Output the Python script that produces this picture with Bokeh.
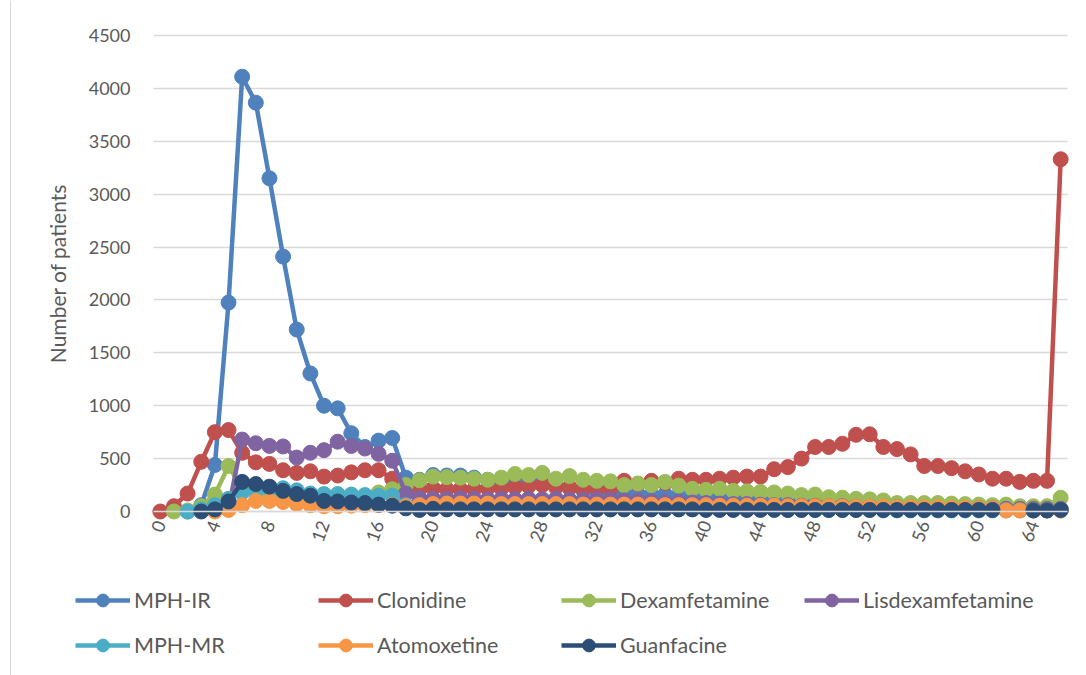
import math
from bokeh.plotting import figure
from bokeh.models import Range1d, FixedTicker, Legend, LegendItem, BoxAnnotation, Span
from bokeh.embed import file_html
from bokeh.resources import INLINE

nan = float("nan")

x_vals = list(range(67))
x_tick_values = list(range(0, 65, 4))
x_tick_labels = [str(v) for v in x_tick_values]
y_tick_values = list(range(0, 4501, 500))

series_names = ["MPH-IR", "Clonidine", "Dexamfetamine", "Lisdexamfetamine",
                "MPH-MR", "Atomoxetine", "Guanfacine"]
series_colors = ["#4F81BD", "#C0504D", "#9BBB59", "#8064A2",
                 "#4BACC6", "#F79646", "#2C4D75"]

mph_ir = [nan, nan, 0, 60, 440, 1975, 4110, 3865, 3150, 2410,
          1720, 1305, 1000, 975, 740, 610, 670, 695, 320, 300,
          345, 340, 340, 320, 300, 290, 290, 280, 270, 250,
          220, 200, 190, 185, 175, 165, 160, 160, 155, 150,
          145, 140, 130, 120, 110, 105, 100, 95, 85, 75,
          70, 65, 60, 55, 50, 45, 40, 40, 35, 35,
          30, 30, 25, 25, 20, 20, 20]

clonidine = [0, 50, 170, 470, 750, 770, 555, 465, 450, 390,
             365, 380, 330, 340, 370, 390, 390, 310, 230, 210,
             220, 210, 210, 210, 220, 220, 230, 240, 250, 230,
             230, 210, 220, 220, 290, 260, 290, 270, 310, 300,
             300, 310, 320, 330, 330, 400, 420, 500, 610, 610,
             640, 725, 730, 610, 590, 540, 430, 430, 410, 380,
             350, 310, 310, 280, 290, 290, 3330]

dexamfetamine = [nan, 0, 10, 50, 160, 430, 220, 180, 170, 160,
                 150, 140, 140, 140, 140, 150, 180, 210, 250, 295,
                 330, 325, 320, 310, 300, 320, 355, 345, 365, 310,
                 335, 300, 290, 285, 250, 265, 250, 280, 245, 215,
                 205, 215, 195, 190, 185, 180, 170, 155, 160, 135,
                 130, 120, 115, 105, 80, 80, 80, 80, 75, 70,
                 65, 60, 65, 50, 50, 50, 130]

lisdexamfetamine = [nan, nan, nan, nan, nan, 30, 680, 645, 620, 615,
                    510, 555, 580, 660, 620, 595, 545, 480, 170, 125,
                    120, 120, 125, 120, 115, 120, 115, 120, 115, 120,
                    110, 110, 115, 110, 105, 100, 95, 90, 90, 85,
                    80, 75, 70, 70, 65, 60, 60, 55, 55, 50,
                    50, 45, 45, 40, 40, 35, 35, 30, 30, 30,
                    30, 30, 25, 25, 25, 25, 25]

mph_mr = [nan, nan, 0, 20, 60, 120, 180, 200, 210, 220,
          200, 170, 165, 165, 160, 155, 150, 150, 60, 50,
          45, 45, 40, 40, 40, 40, 35, 35, 35, 35,
          30, 30, 30, 30, 30, 25, 25, 25, 25, 25,
          20, 20, 20, 20, 20, 20, 15, 15, 15, 15,
          15, 15, 15, 10, 10, 10, 10, 10, 10, 10,
          10, 10, 10, 10, 10, 10, 10]

atomoxetine = [nan, nan, nan, nan, 0, 15, 60, 100, 100, 90,
               70, 60, 50, 50, 55, 60, 60, 60, 50, 60,
               70, 75, 75, 75, 75, 70, 70, 70, 70, 70,
               70, 65, 65, 65, 65, 65, 65, 60, 60, 60,
               60, 55, 55, 55, 55, 55, 50, 50, 50, 50,
               45, 45, 45, 45, 40, 40, 40, 40, 35, 35,
               30, 30, 10, 10, 10, 10, 10]

guanfacine = [nan, nan, nan, 0, 20, 95, 280, 260, 235, 195,
              165, 150, 100, 95, 85, 80, 65, 55, 30, 15,
              25, 20, 20, 20, 20, 20, 20, 20, 20, 20,
              20, 20, 20, 20, 20, 20, 20, 20, 20, 20,
              15, 15, 15, 15, 15, 15, 15, 15, 15, 15,
              15, 15, 15, 15, 15, 15, 15, 15, 15, 15,
              15, 15, nan, nan, 10, 10, 15]

series_values = [mph_ir, clonidine, dexamfetamine, lisdexamfetamine,
                 mph_mr, atomoxetine, guanfacine]

FONT = "Lato"
TEXT = "#595959"
GRID = "#D9D9D9"

# ---- layout: the frame fills the whole canvas; the plotting area is
# placed inside it through the ranges (pixel box 153..1067 x 35..511)
W, H = 1086, 675
AREA_L, AREA_R, AREA_T, AREA_B = 153, 1067, 35, 511
n_cat = len(x_vals)
x0, x1 = -0.5, n_cat - 0.5
y0, y1 = 0, 4500
sx = (AREA_R - AREA_L) / (x1 - x0)
sy = (AREA_B - AREA_T) / (y1 - y0)
xr = Range1d(x0 - AREA_L / sx, x1 + (W - AREA_R) / sx)
yr = Range1d(y0 - (H - AREA_B) / sy, y1 + AREA_T / sy)

p = figure(width=W, height=H, output_backend="svg", toolbar_location=None,
           x_range=xr, y_range=yr, min_border=0)

p.outline_line_color = None
p.background_fill_color = "white"
p.border_fill_color = "white"

p.xgrid.grid_line_color = None
p.ygrid.grid_line_color = GRID
p.ygrid.grid_line_width = 1.5
p.ygrid.bounds = (y0, y1)
grid_model = p.ygrid[0]
if "cross_bounds" in grid_model.properties():
    grid_model.cross_bounds = (x0, x1)
else:
    for left, right in [(None, x0), (x1, None)]:
        kw = {}
        if left is not None:
            kw["left"] = left
        if right is not None:
            kw["right"] = right
        box = BoxAnnotation(fill_color="white", fill_alpha=1.0, line_alpha=0,
                            level="underlay", **kw)
        p.add_layout(box)

# thin chart-area border on the left edge, as in the spreadsheet export
p.add_layout(Span(location=10, location_units="screen", dimension="height",
                  line_color="#D9D9D9", line_width=1))

p.yaxis.fixed_location = x0
p.yaxis.bounds = (y0, y1)
p.yaxis.ticker = FixedTicker(ticks=y_tick_values)
p.yaxis.axis_line_color = None
p.yaxis.major_tick_line_color = None
p.yaxis.minor_tick_line_color = None
p.yaxis.major_tick_out = 0
p.yaxis.major_tick_in = 0
p.yaxis.major_label_standoff = 23
p.yaxis.major_label_text_font = FONT
p.yaxis.major_label_text_font_size = "18px"
p.yaxis.major_label_text_color = TEXT
p.yaxis.axis_label = "Number of patients"
p.yaxis.axis_label_text_font = FONT
p.yaxis.axis_label_text_font_size = "21px"
p.yaxis.axis_label_text_font_style = "normal"
p.yaxis.axis_label_text_color = TEXT
p.yaxis.axis_label_standoff = 16

p.xaxis.fixed_location = y0
p.xaxis.bounds = (x0, x1)
p.xaxis.ticker = FixedTicker(ticks=x_tick_values)
p.xaxis.major_label_overrides = {v: l for v, l in zip(x_tick_values, x_tick_labels)}
p.xaxis.axis_line_color = GRID
p.xaxis.axis_line_width = 1.5
p.xaxis.major_tick_line_color = None
p.xaxis.minor_tick_line_color = None
p.xaxis.major_tick_out = 0
p.xaxis.major_tick_in = 0
p.xaxis.major_label_standoff = 10
p.xaxis.major_label_orientation = math.radians(70)
p.xaxis.major_label_text_font = FONT
p.xaxis.major_label_text_font_size = "18px"
p.xaxis.major_label_text_color = TEXT

items = []
for name, color, vals in zip(series_names, series_colors, series_values):
    ln = p.line(x_vals, vals, line_color=color, line_width=4.5, line_join="round")
    sc = p.scatter(x_vals, vals, marker="circle", size=15, fill_color=color,
                   line_color=color)
    items.append(LegendItem(label=name, renderers=[ln, sc]))

legend = Legend(items=items, orientation="horizontal", ncols=4,
                location=(75, 14))
legend.glyph_width = 55
legend.glyph_height = 32
legend.label_standoff = 4
legend.label_width = 171
legend.label_height = 22
legend.spacing = 13
legend.padding = 0
legend.margin = 0
legend.border_line_color = None
legend.background_fill_alpha = 0
legend.label_text_font = FONT
legend.label_text_font_size = "21.5px"
legend.label_text_color = TEXT
p.add_layout(legend, "center")

open("out.html", "w").write(file_html(p, INLINE))
